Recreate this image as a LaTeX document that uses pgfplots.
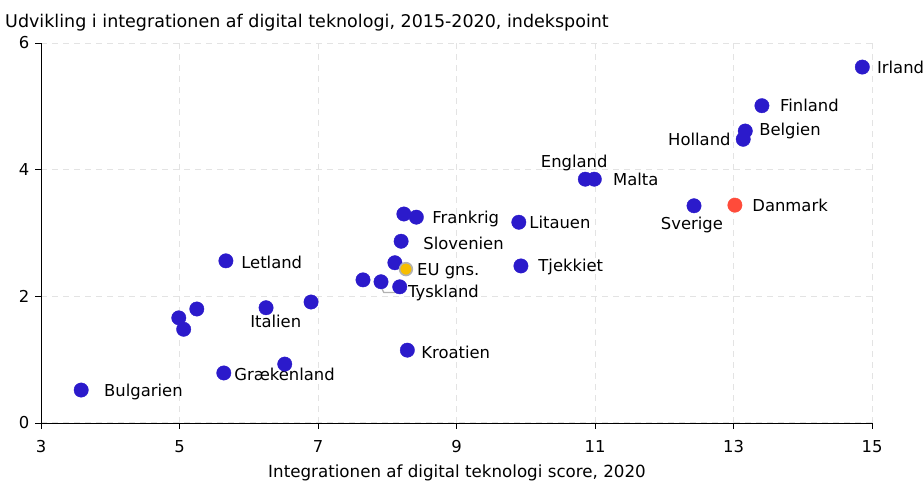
\documentclass[border=0pt]{standalone}
\usepackage{fontspec}
\setmainfont{DejaVu Sans}
\usepackage{pgfplots}
\pgfplotsset{compat=1.18}
\definecolor{dotblue}{HTML}{2B1ACB}
\definecolor{dotred}{HTML}{FF4B3A}
\definecolor{dotyellow}{HTML}{F7BE00}
\definecolor{gridgray}{HTML}{E3E3E3}
\begin{document}
\fontsize{16.4bp}{19bp}\selectfont
\begin{tikzpicture}[x=1bp,y=1bp]
\useasboundingbox (-41,-58) rectangle (883,423);
\begin{axis}[
  at={(0,0)},
  x=69.25bp, y=63.33bp,
  xmin=3, xmax=15, ymin=0, ymax=6,
  xtick={3,5,7,9,11,13,15}, ytick={0,2,4,6},
  axis lines=left, axis line style={-, black, line width=0.8pt},
  tick align=outside, major tick length=6bp,
  tick style={black, line width=0.8pt},
  grid=major, major grid style={gridgray, dashed, dash pattern=on 6bp off 5bp, line width=1pt},
  /pgf/number format/assume math mode=true,
  ticklabel style={font=\fontsize{16.4bp}{19bp}\selectfont},
  xticklabel style={yshift=-6bp},
  clip=false,
  anchor=south west,
]
% blue countries
\addplot[only marks, mark=*, mark size=7.2bp, color=dotblue, fill=dotblue] coordinates {
(14.86,5.62) (13.41,5.01) (13.17,4.61) (13.14,4.48)
(10.86,3.85) (10.99,3.85) (12.43,3.43)
(9.90,3.17) (9.93,2.48)
(8.24,3.30) (8.42,3.25) (8.20,2.87) (8.11,2.53)
(7.65,2.26) (7.91,2.23) (8.18,2.15)
(8.29,1.15)
(5.67,2.56) (6.90,1.91) (6.25,1.82) (5.25,1.80) (4.99,1.66) (5.06,1.48)
(6.52,0.93) (5.64,0.79) (3.58,0.52)
};
% leader line
\addplot[gray!60, line width=1.3pt, no marks] coordinates {(7.89,2.20) (7.95,2.06) (8.12,2.06)};
% EU
\addplot[only marks, mark=*, mark size=6.4bp, draw=gray!60, line width=1.6pt, fill=dotyellow] coordinates {(8.27,2.43)};
% Danmark
\addplot[only marks, mark=*, mark size=7.2bp, color=dotred, fill=dotred] coordinates {(13.02,3.44)};

\node[anchor=west, inner sep=0] at (axis cs:15.07,5.62) {Irland};
\node[anchor=west, inner sep=0] at (axis cs:13.67,5.01) {Finland};
\node[anchor=west, inner sep=0] at (axis cs:13.37,4.61) {Belgien};
\node[anchor=east, inner sep=0] at (axis cs:12.96,4.48) {Holland};
\node[anchor=center, inner sep=0] at (axis cs:10.70,4.11) {England};
\node[anchor=west, inner sep=0] at (axis cs:11.26,3.84) {Malta};
\node[anchor=center, inner sep=0] at (axis cs:12.40,3.13) {Sverige};
\node[anchor=west, inner sep=0] at (axis cs:13.27,3.44) {Danmark};
\node[anchor=west, inner sep=0] at (axis cs:10.05,3.16) {Litauen};
\node[anchor=west, inner sep=0] at (axis cs:10.18,2.46) {Tjekkiet};
\node[anchor=west, inner sep=0] at (axis cs:8.65,3.22) {Frankrig};
\node[anchor=west, inner sep=0] at (axis cs:8.52,2.84) {Slovenien};
\node[anchor=west, inner sep=0] at (axis cs:8.43,2.40) {EU gns.};
\node[anchor=west, inner sep=0] at (axis cs:8.30,2.05) {Tyskland};
\node[anchor=west, inner sep=0] at (axis cs:8.49,1.12) {Kroatien};
\node[anchor=west, inner sep=0] at (axis cs:5.89,2.53) {Letland};
\node[anchor=center, inner sep=0] at (axis cs:6.39,1.61) {Italien};
\node[anchor=west, inner sep=0] at (axis cs:5.79,0.76) {Grækenland};
\node[anchor=west, inner sep=0] at (axis cs:3.91,0.49) {Bulgarien};
\end{axis}
\node[anchor=base west, inner sep=0, font=\fontsize{17.5bp}{20bp}\selectfont] at (-36,395) {Udvikling i integrationen af digital teknologi, 2015-2020, indekspoint};
\node[anchor=base, inner sep=0, font=\fontsize{16.7bp}{19bp}\selectfont] at (416,-55) {Integrationen af digital teknologi score, 2020};
\end{tikzpicture}
\end{document}
